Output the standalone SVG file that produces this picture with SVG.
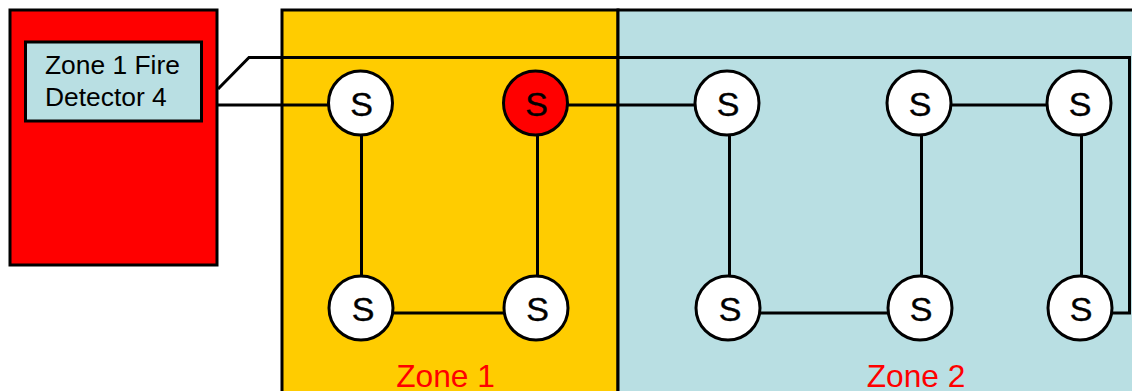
<svg xmlns="http://www.w3.org/2000/svg" width="1132" height="391" viewBox="0 0 1132 391">
<style>
.box{stroke:#000;stroke-width:3}
.wire{fill:none;stroke:#000;stroke-width:3}
.sensor circle{fill:#fff;stroke:#000;stroke-width:3}
.sensor.alarm circle{fill:#f00}
text{font-family:"Liberation Sans",Arial,sans-serif}
.s{font-size:34px;text-anchor:middle;fill:#000;stroke:#000;stroke-width:.4}
.zone{font-size:31.700px;text-anchor:middle;fill:#f00}
.det{font-size:26.400px;fill:#000}
</style>
<rect width="1132" height="391" fill="#fff"/>
<g id="zone1"><rect class="box" x="282" y="10" width="336" height="400" fill="#fc0"/><text class="zone" x="445.500" y="387">Zone 1</text></g>
<g id="zone2"><rect class="box" x="618" y="10" width="540" height="400" fill="#b9dfe3"/><text class="zone" x="916" y="387">Zone 2</text></g>
<g id="panel"><rect class="box" x="10" y="10" width="207" height="255" fill="#f00"/><rect class="box" x="25.500" y="42" width="176" height="79" fill="#b9dfe3"/><text class="det" x="45" y="74">Zone 1 Fire</text><text class="det" x="45" y="106">Detector 4</text></g>
<g id="connectors">
<path class="wire" d="M218 89L249 57.500H1129.500V313H1112"/>
<path class="wire" d="M218 105H330M566 105H696M952 105H1048"/>
<path class="wire" d="M361.500 135V277M537.500 135V277M729.500 135V277M921.500 135V277M1081.500 135V277"/>
<path class="wire" d="M393 313H505M760 313H889"/>
</g>
<g id="s1" class="sensor"><circle cx="360.500" cy="103" r="32"/><text class="s" x="361.500" y="116">S</text></g>
<g id="s2" class="sensor alarm"><circle cx="535.500" cy="103" r="32"/><text class="s" x="536.500" y="116">S</text></g>
<g id="s3" class="sensor"><circle cx="727" cy="103" r="32"/><text class="s" x="728" y="116">S</text></g>
<g id="s4" class="sensor"><circle cx="919" cy="103" r="32"/><text class="s" x="920" y="116">S</text></g>
<g id="s5" class="sensor"><circle cx="1079" cy="103" r="32"/><text class="s" x="1080" y="116">S</text></g>
<g id="s6" class="sensor"><circle cx="361" cy="308" r="32"/><text class="s" x="363" y="321">S</text></g>
<g id="s7" class="sensor"><circle cx="536" cy="308" r="32"/><text class="s" x="537.500" y="321">S</text></g>
<g id="s8" class="sensor"><circle cx="728" cy="308" r="32"/><text class="s" x="730" y="321">S</text></g>
<g id="s9" class="sensor"><circle cx="920" cy="308" r="32"/><text class="s" x="921" y="321">S</text></g>
<g id="s10" class="sensor"><circle cx="1080" cy="308" r="32"/><text class="s" x="1081" y="321">S</text></g>
</svg>
